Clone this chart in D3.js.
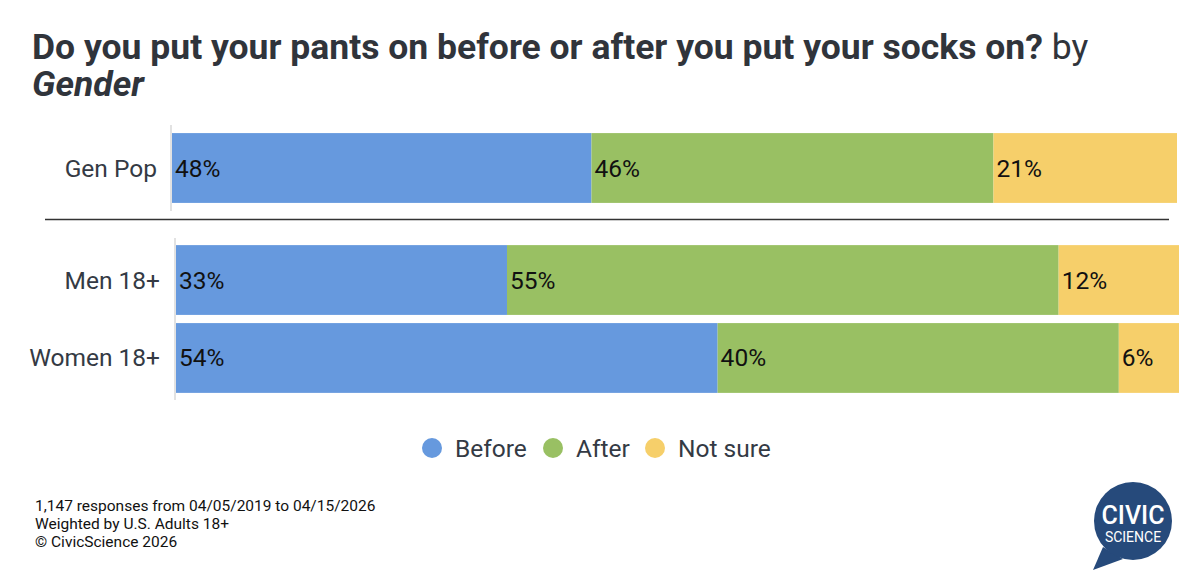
<!DOCTYPE html>
<html><head><meta charset="utf-8">
<script src="https://cdn.jsdelivr.net/npm/d3@7"></script>
<style>body{margin:0;background:#fff;}svg{display:block;font-family:Roboto,sans-serif;}</style>
</head><body><svg id="c" width="1200" height="588"></svg>
<script>
const categories = ["Gen Pop", "Men 18+", "Women 18+"];
const seriesNames = ["Before", "After", "Not sure"];
const before = [48, 33, 54];
const after = [46, 55, 40];
const notSure = [21, 12, 6];
const colors = ["#6699de", "#99c063", "#f6cf6a"];
const footer = ["1,147 responses from 04/05/2019 to 04/15/2026", "Weighted by U.S. Adults 18+", "\u00a9 CivicScience 2026"];

const svg = d3.select("#c");
const series = [before, after, notSure];

// Title
const t = svg.append("text").attr("x", 32).attr("y", 59).attr("fill", "#30343b").style("font-size", "35.5px");
t.append("tspan").attr("font-weight", 700).text("Do you put your pants on before or after you put your socks on?");
t.append("tspan").attr("font-weight", 400).text(" by");
svg.append("text").attr("x", 32).attr("y", 96).attr("fill", "#30343b").style("font-size", "35.5px")
  .attr("font-weight", 700).attr("font-style", "italic").text("Gender");

// Panels
const panels = [
  {rows: [0], x0: 172, x1: 1177, y0: 125, y1: 211, labelX: 157},
  {rows: [1, 2], x0: 176, x1: 1179, y0: 238, y1: 400, labelX: 160}
];

panels.forEach(p => {
  const x = d3.scaleLinear().domain([0, 1]).range([p.x0, p.x1]);
  const y = d3.scaleBand().domain(p.rows.map(i => categories[i])).range([p.y0 + 4, p.y1 - 4]).paddingInner(0.105).paddingOuter(0.04);
  const g = svg.append("g");
  g.append("line").attr("x1", p.x0 - 1).attr("x2", p.x0 - 1).attr("y1", p.y0).attr("y2", p.y1)
    .attr("stroke", "#d8d8d8").attr("stroke-width", 1.5);
  p.rows.forEach(i => {
    const vals = series.map(s => s[i]);
    const total = d3.sum(vals);
    let cum = 0;
    vals.forEach((v, k) => {
      const a = cum / total, b = (cum + v) / total;
      cum += v;
      g.append("rect").attr("x", x(a)).attr("width", x(b) - x(a))
        .attr("y", y(categories[i])).attr("height", y.bandwidth()).attr("fill", colors[k]);
      g.append("text").attr("x", x(a) + 3).attr("y", y(categories[i]) + y.bandwidth() / 2 + 8.5)
        .attr("fill", "#111").style("font-size", "24.5px").text(v + "%");
    });
    g.append("text").attr("x", p.labelX).attr("y", y(categories[i]) + y.bandwidth() / 2 + 8.5)
      .attr("text-anchor", "end").attr("fill", "#343a44").style("font-size", "24.5px").text(categories[i]);
  });
});

// Separator
svg.append("line").attr("x1", 45).attr("x2", 1169).attr("y1", 219.5).attr("y2", 219.5)
  .attr("stroke", "#333").attr("stroke-width", 1.3);

// Legend
const leg = svg.append("g");
const legX = [432, 553, 655];
seriesNames.forEach((n, k) => {
  leg.append("circle").attr("cx", legX[k]).attr("cy", 448).attr("r", 10).attr("fill", colors[k]);
  leg.append("text").attr("x", legX[k] + 23).attr("y", 456.5).attr("fill", "#343a44").style("font-size", "24.5px").text(n);
});

// Footer
footer.forEach((f, i) => {
  svg.append("text").attr("x", 35).attr("y", 511 + i * 18).attr("fill", "#111").style("font-size", "15.5px").text(f);
});

// Logo
const lg = svg.append("g").attr("transform", "translate(1133,521)");
lg.append("path").attr("d", "M-30,26 L-40,49 L-10,38 Z").attr("fill", "#264a7b");
lg.append("circle").attr("r", 39).attr("fill", "#264a7b");
lg.append("text").attr("y", 3).attr("text-anchor", "middle").attr("fill", "#fff").style("font-size", "25px").attr("font-weight", 500).text("CIVIC");
lg.append("text").attr("y", 21).attr("text-anchor", "middle").attr("fill", "#fff").style("font-size", "14px").text("SCIENCE");
</script></body></html>
